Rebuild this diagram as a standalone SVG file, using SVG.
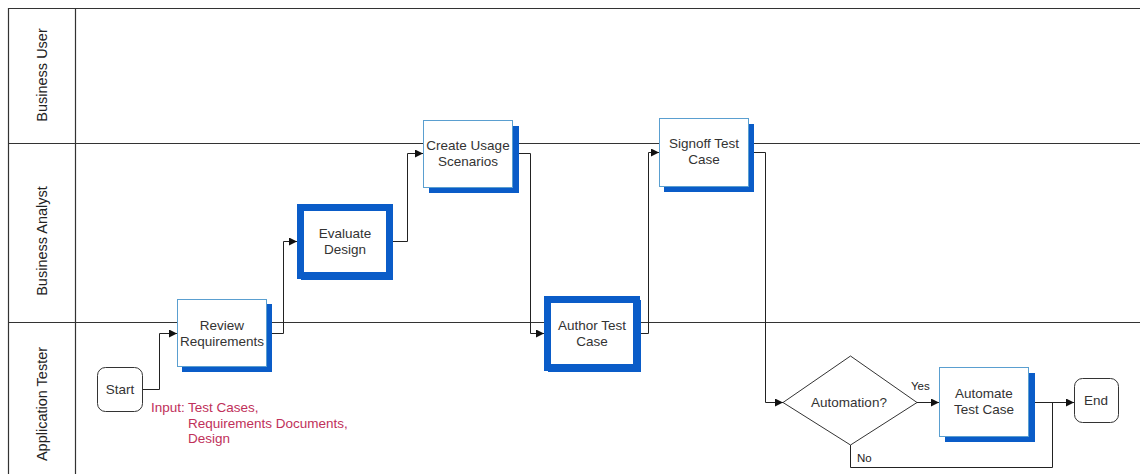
<svg xmlns="http://www.w3.org/2000/svg" width="1140" height="474" viewBox="0 0 1140 474">
<defs>
<marker id="arr" viewBox="0 0 10 10" refX="10" refY="5" markerWidth="8" markerHeight="8" markerUnits="userSpaceOnUse" orient="auto"><path d="M0,0 L10,5 L0,10 z" fill="#111"/></marker>
<style>
.lane{stroke:#333;stroke-width:1.2;fill:none}
.lbl{font-family:"Liberation Sans",Arial,sans-serif;font-size:14.5px;fill:#222;text-anchor:middle}
.txt{font-family:"Liberation Sans",Arial,sans-serif;font-size:13.5px;fill:#333;text-anchor:middle}
.box{fill:#fff;stroke:#5a9fd0;stroke-width:1}
.shadow{fill:#0a5cc8}
.thick{fill:#fff;stroke:#0a5cc8;stroke-width:7}
.term{fill:#fff;stroke:#333;stroke-width:1}
.con{fill:none;stroke:#222;stroke-width:1}
.red{font-family:"Liberation Sans",Arial,sans-serif;font-size:13.5px;fill:#c0305a}
.small{font-family:"Liberation Sans",Arial,sans-serif;font-size:11.5px;fill:#222}
</style>
</defs>
<rect width="1140" height="474" fill="#fff"/>
<g id="lanes">
<path class="lane" d="M1140,8.5 H8.5 V474"/>
<path class="lane" d="M75.5,8.5 V474"/>
<path class="lane" d="M8.5,143.5 H1140"/>
<path class="lane" d="M8.5,322.5 H1140"/>
<text class="lbl" transform="translate(47,75) rotate(-90)">Business User</text>
<text class="lbl" transform="translate(47,241) rotate(-90)">Business Analyst</text>
<text class="lbl" transform="translate(47,404) rotate(-90)">Application Tester</text>
</g>
<g id="connectors">
<path class="con" d="M143,389.5 H159.5 V333.5 H177" marker-end="url(#arr)"/>
<path class="con" d="M267,333.5 H283.5 V241.5 H297" marker-end="url(#arr)"/>
<path class="con" d="M393,241.5 H407.5 V153.5 H423" marker-end="url(#arr)"/>
<path class="con" d="M513,153.5 H530.5 V333.5 H544" marker-end="url(#arr)"/>
<path class="con" d="M641,333.5 H648.5 V152.5 H659" marker-end="url(#arr)"/>
<path class="con" d="M749,152.5 H765.5 V402.5 H783" marker-end="url(#arr)"/>
<path class="con" d="M917,402.5 H939" marker-end="url(#arr)"/>
<path class="con" d="M1029,402.5 H1074" marker-end="url(#arr)"/>
<path class="con" d="M850.5,445 V467.5 H1052.5 V402.5"/>
<text class="small" x="911" y="390">Yes</text>
<text class="small" x="857" y="462">No</text>
</g>
<g id="start">
<rect class="term" x="97.5" y="367.5" width="45" height="44" rx="8"/>
<text class="txt" x="120" y="394">Start</text>
</g>
<g id="input-note">
<text class="red" x="151" y="412">Input:</text>
<text class="red" x="188" y="412">Test Cases,</text>
<text class="red" x="188" y="428">Requirements Documents,</text>
<text class="red" x="188" y="443">Design</text>
</g>
<g id="review">
<rect class="shadow" x="182" y="304" width="90" height="68"/>
<rect class="box" x="177.5" y="299.5" width="89" height="67"/>
<text class="txt" x="222" y="330">Review</text>
<text class="txt" x="222" y="346">Requirements</text>
</g>
<g id="evaluate">
<rect class="shadow" x="301" y="208" width="92" height="72"/>
<rect class="thick" x="300.5" y="207.5" width="89" height="68"/>
<text class="txt" x="345" y="238">Evaluate</text>
<text class="txt" x="345" y="254">Design</text>
</g>
<g id="create">
<rect class="shadow" x="429" y="126" width="90" height="67"/>
<rect class="box" x="423.5" y="120.5" width="89" height="67"/>
<text class="txt" x="468" y="150">Create Usage</text>
<text class="txt" x="468" y="166">Scenarios</text>
</g>
<g id="author">
<rect class="shadow" x="548" y="300" width="93" height="72"/>
<rect class="thick" x="547.5" y="299.5" width="89" height="68"/>
<text class="txt" x="592" y="330">Author Test</text>
<text class="txt" x="592" y="346">Case</text>
</g>
<g id="signoff">
<rect class="shadow" x="664" y="124" width="90" height="68"/>
<rect class="box" x="659.5" y="118.5" width="89" height="68"/>
<text class="txt" x="704" y="148">Signoff Test</text>
<text class="txt" x="704" y="164">Case</text>
</g>
<g id="decision">
<path d="M783,402.5 L850.5,356 L917,402.5 L850.5,445 Z" fill="#fff" stroke="#333" stroke-width="1"/>
<text class="txt" x="849" y="407">Automation?</text>
</g>
<g id="automate">
<rect class="shadow" x="945" y="373" width="90" height="69"/>
<rect class="box" x="939.5" y="367.5" width="89" height="69"/>
<text class="txt" x="984" y="398">Automate</text>
<text class="txt" x="984" y="414">Test Case</text>
</g>
<g id="end">
<rect class="term" x="1074.5" y="378.5" width="44" height="44" rx="8"/>
<text class="txt" x="1096" y="405">End</text>
</g>
</svg>
